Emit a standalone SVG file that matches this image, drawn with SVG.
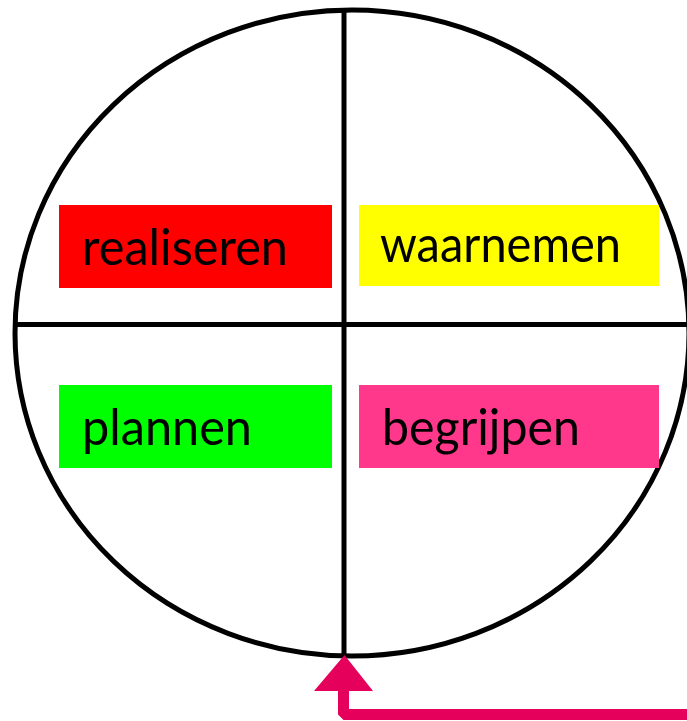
<svg xmlns="http://www.w3.org/2000/svg" width="687" height="721" viewBox="0 0 687 721">
<style>
.ln{fill:none;stroke:#000;stroke-width:5}
.lbl{font-family:Lato,"Noto Sans","Liberation Sans",sans-serif;font-size:51px;fill:#000}
.arr{fill:#E5005B}
</style>
<rect width="687" height="721" fill="#fff"/>
<g id="circle">
<ellipse class="ln" cx="352" cy="333" rx="337" ry="323"/>
<line class="ln" x1="344" y1="10" x2="344" y2="656"/>
<line class="ln" x1="15" y1="324.5" x2="690" y2="324.5"/>
</g>
<g id="realiseren">
<rect x="59" y="205" width="273" height="83" fill="#FF0000"/>
<text class="lbl" x="82" y="265" textLength="206" lengthAdjust="spacingAndGlyphs">realiseren</text>
</g>
<g id="waarnemen">
<rect x="359" y="205" width="300" height="81" fill="#FFFF00"/>
<text class="lbl" x="380" y="262" textLength="241" lengthAdjust="spacingAndGlyphs">waarnemen</text>
</g>
<g id="plannen">
<rect x="59" y="385" width="273" height="83" fill="#00FF00"/>
<text class="lbl" x="82" y="445" textLength="170" lengthAdjust="spacingAndGlyphs">plannen</text>
</g>
<g id="begrijpen">
<rect x="359" y="385" width="300" height="83" fill="#FF388C"/>
<text class="lbl" x="382" y="445" textLength="198" lengthAdjust="spacingAndGlyphs">begrijpen</text>
</g>
<g id="connectors">
<polyline points="343.5,690 343.5,714.5 690,714.5" fill="none" stroke="#E5005B" stroke-width="11" stroke-linejoin="bevel"/>
<polygon class="arr" points="344.5,655 373,691 314,691"/>
</g>
</svg>
